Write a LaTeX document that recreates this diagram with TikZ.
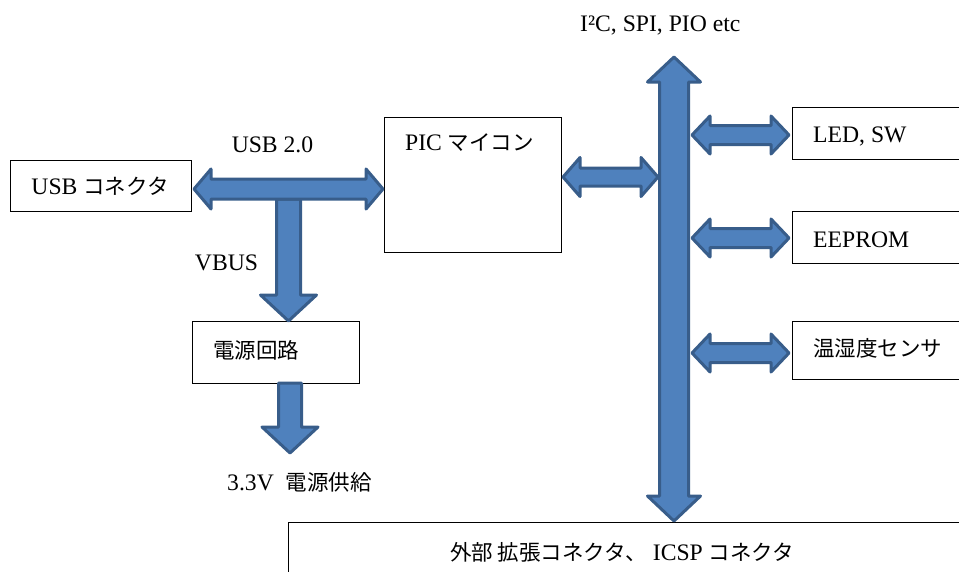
\documentclass[tikz,border=0pt]{standalone}
\usepackage{fontspec}
\setmainfont{Liberation Serif}[Scale=1.1]
\newfontfamily\jp{Noto Sans CJK JP}
\definecolor{arrfill}{RGB}{79,129,189}
\definecolor{arrline}{RGB}{56,93,138}
% horizontal double block arrow: x1, x2, yc, shaft half, head half, head length
\newcommand\hdarr[6]{%
  \draw[blk] (#1,#3) -- (#1+#6,#3-#5) -- (#1+#6,#3-#4) -- (#2-#6,#3-#4) -- (#2-#6,#3-#5)
    -- (#2,#3) -- (#2-#6,#3+#5) -- (#2-#6,#3+#4) -- (#1+#6,#3+#4) -- (#1+#6,#3+#5) -- cycle;}
% vertical down block arrow: xc, y1, y2, shaft half, head half, head length
\newcommand\vdarr[6]{%
  \draw[blk] (#1-#4,#2) -- (#1+#4,#2) -- (#1+#4,#3-#6) -- (#1+#5,#3-#6) -- (#1,#3)
    -- (#1-#5,#3-#6) -- (#1-#4,#3-#6) -- cycle;}
% vertical double block arrow
\newcommand\vddarr[6]{%
  \draw[blk] (#1,#2) -- (#1+#5,#2+#6) -- (#1+#4,#2+#6) -- (#1+#4,#3-#6) -- (#1+#5,#3-#6)
    -- (#1,#3) -- (#1-#5,#3-#6) -- (#1-#4,#3-#6) -- (#1-#4,#2+#6) -- (#1-#5,#2+#6) -- cycle;}
\begin{document}
\begin{tikzpicture}[x=1pt,y=-1pt,
  box/.style={draw, line width=1pt, fill=white, inner sep=0pt, rectangle},
  blk/.style={fill=arrfill, draw=arrline, line width=3pt, line join=round},
  lbl/.style={font=\fontsize{21.5}{26}\selectfont, inner sep=0pt}]
\useasboundingbox (0,0) rectangle (959,571);
% boxes
\node[box, minimum width=181pt, minimum height=51pt] (usb) at (100.5,185.5) {};
\node[box, minimum width=177pt, minimum height=135pt] (pic) at (472.5,184.5) {};
\node[box, minimum width=167pt, minimum height=62pt] (pwr) at (275.5,352) {};
\node[box, minimum width=173pt, minimum height=52pt] (led) at (878.5,133) {};
\node[box, minimum width=173pt, minimum height=52pt] (eep) at (878.5,237) {};
\node[box, minimum width=173pt, minimum height=58pt] (sens) at (878.5,350) {};
\node[box, minimum width=682pt, minimum height=68pt] (ext) at (629,556) {};
% block arrows
\vdarr{288.5}{199}{321}{12}{28}{26}
\hdarr{194}{383}{189}{10}{20}{17}
\vdarr{290}{383}{453}{11.5}{28}{26}
\vddarr{674}{57}{521}{14.5}{26.5}{25}
\hdarr{563}{658}{177}{9}{19.5}{17}
\hdarr{692}{789}{135}{9.5}{19}{18}
\hdarr{692}{789}{238}{9.5}{19}{18}
\hdarr{692}{789}{353}{9.5}{19}{18}
% labels
\node[lbl] (usbt) at (100,186) {USB {\jp コネクタ}};
\node[lbl] (usb2) at (272.5,145) {USB 2.0};
\node[lbl] (vbus) at (226.5,263) {VBUS};
\node[lbl, anchor=west] (pict) at (405,143) {PIC {\jp マイコン}};
\node[lbl, anchor=west] (pwrt) at (213,350) {\jp 電源回路};
\node[lbl, anchor=west] (v33) at (227,482) {3.3V\hspace{0.5em}{\jp 電源供給}};
\node[lbl, anchor=west] (bust) at (580,25) {I²C, SPI, PIO etc};
\node[lbl, anchor=west] (ledt) at (813,136) {LED, SW};
\node[lbl, anchor=west] (eept) at (813,240) {EEPROM};
\node[lbl, anchor=west] (senst) at (813,348) {\jp 温湿度センサ};
\node[lbl, anchor=west] (extt) at (450,552) {{\jp 外部 拡張コネクタ、} ICSP {\jp コネクタ}};
\end{tikzpicture}
\end{document}
